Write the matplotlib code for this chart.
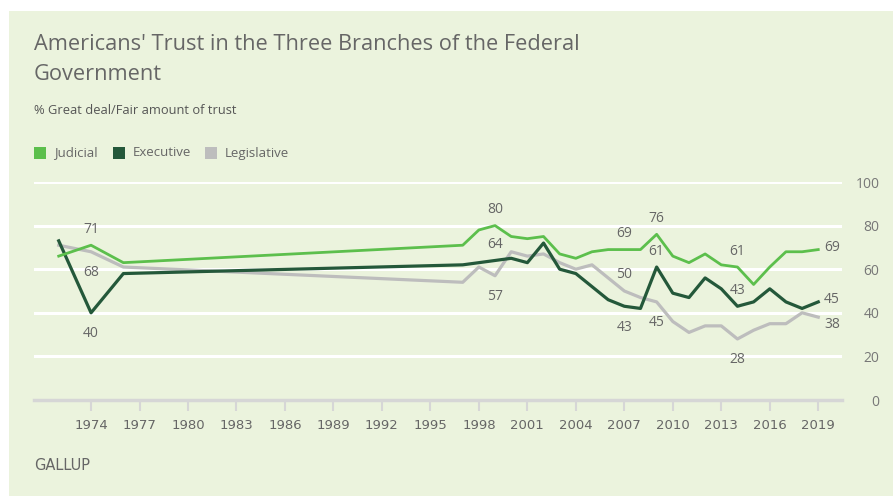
import matplotlib
matplotlib.use("Agg")
import matplotlib.pyplot as plt
from matplotlib.patches import Rectangle

# Gallup trust in branches of government, % great deal/fair amount
years = [1972, 1974, 1976, 1997, 1998, 1999, 2000, 2001, 2002, 2003, 2004, 2005, 2006,
         2007, 2008, 2009, 2010, 2011, 2012, 2013, 2014, 2015, 2016, 2017, 2018, 2019]
judicial = [66, 71, 63, 71, 78, 80, 75, 74, 75, 67, 65, 68, 69,
            69, 69, 76, 66, 63, 67, 62, 61, 53, 61, 68, 68, 69]
executive = [73, 40, 58, 62, 63, 64, 65, 63, 72, 60, 58, 52, 46,
             43, 42, 61, 49, 47, 56, 51, 43, 45, 51, 45, 42, 45]
legislative = [71, 68, 61, 54, 61, 57, 68, 66, 67, 63, 60, 62, 56,
               50, 47, 45, 36, 31, 34, 34, 28, 32, 35, 35, 40, 38]

xticks = list(range(1974, 2020, 3))
yticks = [0, 20, 40, 60, 80, 100]

# which points get a value label: (year, series, direction)
labelled = [(1974, "j", "up"), (1974, "l", "down"), (1974, "e", "down"),
            (1999, "j", "up"), (1999, "e", "up"), (1999, "l", "down"),
            (2007, "j", "up"), (2007, "l", "up"), (2007, "e", "down"),
            (2009, "j", "up"), (2009, "e", "up"), (2009, "l", "down"),
            (2014, "j", "up"), (2014, "e", "up"), (2014, "l", "down")]

c_jud = "#5cbf4c"
c_exe = "#24583a"
c_leg = "#bdbdbd"
bg = "#ebf3dd"
txt = "#666666"

fig = plt.figure(figsize=(8.93, 4.96), dpi=100)
fig.patch.set_facecolor("white")
fig.patches.append(Rectangle((9 / 893, 0), 1, (496 - 11) / 496,
                             transform=fig.transFigure, facecolor=bg,
                             edgecolor="none", zorder=-10))

ax = fig.add_axes([34 / 893, 96 / 496, 808 / 893, 218 / 496])
ax.set_facecolor("none")
ax.set_xlim(1970.47, 2020.47)
ax.set_ylim(0, 100)

for v in yticks[1:]:
    ax.axhline(v, color="white", lw=2.2, zorder=1)

series = {"j": judicial, "e": executive, "l": legislative}
ax.plot(years, legislative, color=c_leg, lw=2.3, zorder=2)
ax.plot(years, executive, color=c_exe, lw=2.3, zorder=3)
ax.plot(years, judicial, color=c_jud, lw=2.0, zorder=4)

for yr, key, d in labelled:
    val = series[key][years.index(yr)]
    dy = 16 if d == "up" else -21
    ax.annotate(str(val), (yr, val), xytext=(0, dy), textcoords="offset pixels",
                ha="center", va="center", fontsize=10, color=txt,
                family="Open Sans")

# end labels at 2019
for key, dy in (("j", 2), ("e", 2), ("l", -7)):
    val = series[key][-1]
    ax.annotate(str(val), (years[-1], val), xytext=(6, dy), textcoords="offset pixels",
                ha="left", va="center", fontsize=10, color=txt, family="Open Sans")

for s in ("top", "left", "right"):
    ax.spines[s].set_visible(False)
ax.spines["bottom"].set_color("#d6d6d6")
ax.spines["bottom"].set_linewidth(2.5)

ax.set_xticks(xticks)
ax.set_xticklabels([str(x) for x in xticks], fontsize=9.5, color=txt,
                   family=["Liberation Sans Narrow", "DejaVu Sans"])
ax.tick_params(axis="x", length=8, width=1.5, color="#d6d6d6", pad=6)

ax.yaxis.tick_right()
ax.set_yticks(yticks)
ax.set_yticklabels([str(v) for v in yticks], fontsize=10, color="#777777",
                   family="Open Sans", ha="right")
ax.tick_params(axis="y", length=0, pad=27)

fig.text(34 / 893, 1 - 45 / 496, "Americans' Trust in the Three Branches of the Federal",
         fontsize=15.7, color=txt, family="Open Sans", va="center")
fig.text(34 / 893, 1 - 75 / 496, "Government",
         fontsize=15.7, color=txt, family="Open Sans", va="center")
fig.text(34 / 893, 1 - 110 / 496, "% Great deal/Fair amount of trust",
         fontsize=9.3, color="#555555", family="Open Sans", va="center")

legend = [("Judicial", c_jud, 34), ("Executive", c_exe, 113), ("Legislative", c_leg, 205)]
for name, col, x0 in legend:
    fig.patches.append(Rectangle((x0 / 893, 1 - 159 / 496), 12 / 893, 12 / 496,
                                 transform=fig.transFigure, facecolor=col,
                                 edgecolor="none"))
    fig.text((x0 + 20) / 893, 1 - 153 / 496, name, fontsize=9.5, color=txt,
             family="Open Sans", va="center")

fig.text(34 / 893, 1 - 466 / 496, "GALLUP", fontsize=10.5, color=txt,
         family=["Liberation Sans Narrow", "DejaVu Sans"], va="center")

fig.savefig("out.png", dpi=100, facecolor=fig.get_facecolor())
